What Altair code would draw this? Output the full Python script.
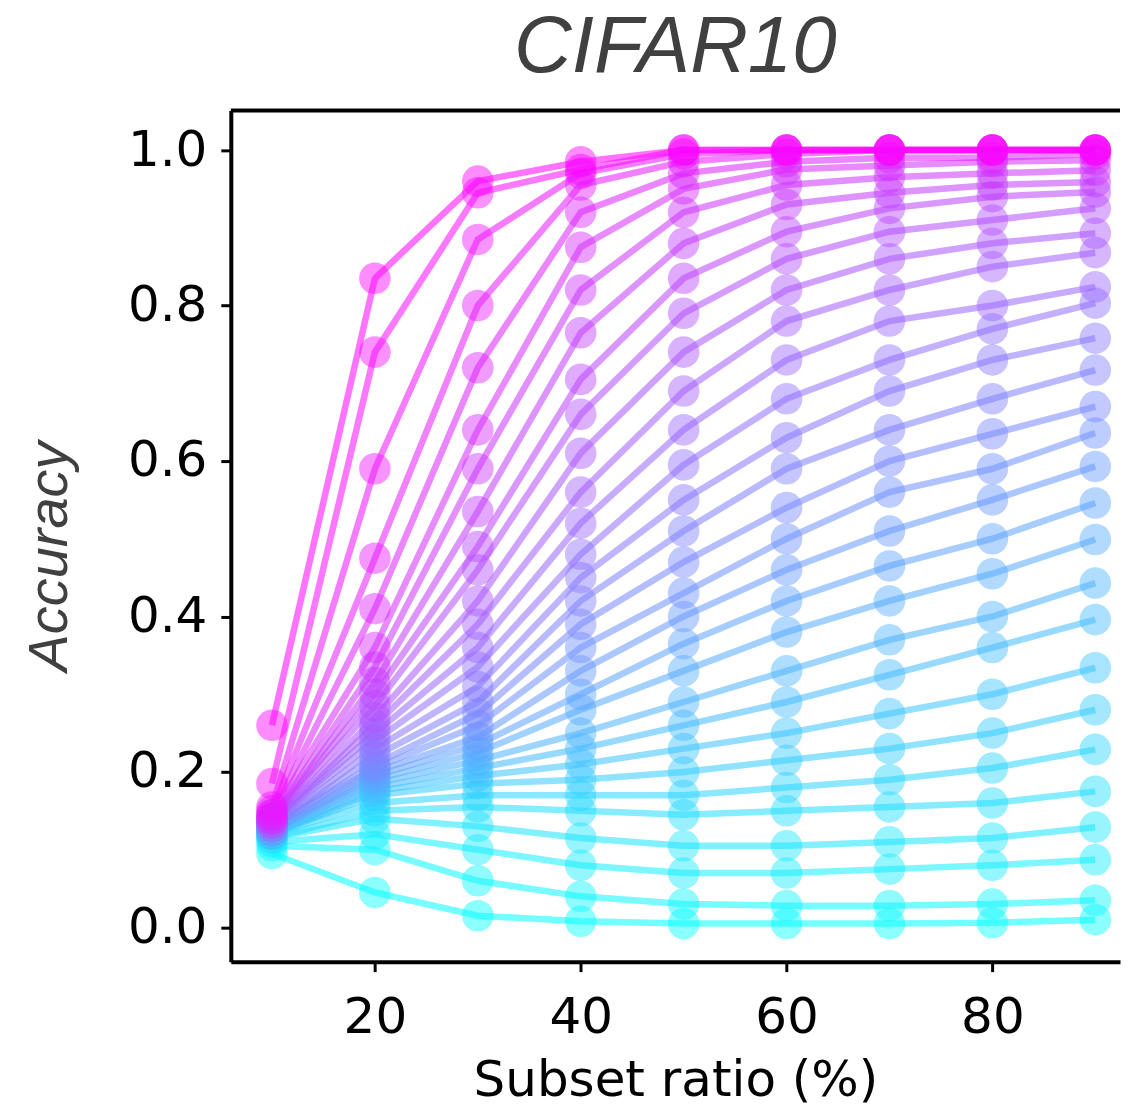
import altair as alt
import pandas as pd

# Subset ratios (%) on the x axis
subset_ratio = [10, 20, 30, 40, 50, 60, 70, 80, 90]

# Accuracy per curve (bottom/cyan -> top/magenta)
line_00 = [0.095, 0.045, 0.015, 0.008, 0.005, 0.005, 0.005, 0.006, 0.010]
line_01 = [0.105, 0.100, 0.060, 0.040, 0.030, 0.028, 0.028, 0.030, 0.035]
line_02 = [0.110, 0.120, 0.100, 0.080, 0.070, 0.070, 0.075, 0.080, 0.087]
line_03 = [0.115, 0.140, 0.130, 0.115, 0.105, 0.105, 0.110, 0.115, 0.129]
line_04 = [0.115, 0.150, 0.155, 0.150, 0.145, 0.150, 0.155, 0.160, 0.175]
line_05 = [0.120, 0.160, 0.170, 0.170, 0.170, 0.180, 0.190, 0.205, 0.229]
line_06 = [0.120, 0.170, 0.185, 0.190, 0.200, 0.215, 0.230, 0.250, 0.280]
line_07 = [0.120, 0.175, 0.195, 0.210, 0.230, 0.250, 0.275, 0.300, 0.334]
line_08 = [0.120, 0.180, 0.205, 0.230, 0.260, 0.290, 0.325, 0.360, 0.396]
line_09 = [0.125, 0.185, 0.215, 0.250, 0.290, 0.330, 0.370, 0.400, 0.443]
line_10 = [0.125, 0.190, 0.225, 0.280, 0.330, 0.380, 0.420, 0.455, 0.499]
line_11 = [0.125, 0.195, 0.235, 0.300, 0.365, 0.420, 0.465, 0.500, 0.546]
line_12 = [0.125, 0.200, 0.245, 0.330, 0.400, 0.460, 0.510, 0.550, 0.593]
line_13 = [0.130, 0.205, 0.260, 0.360, 0.430, 0.500, 0.560, 0.590, 0.636]
line_14 = [0.130, 0.210, 0.275, 0.390, 0.470, 0.540, 0.600, 0.635, 0.670]
line_15 = [0.130, 0.220, 0.290, 0.420, 0.510, 0.590, 0.640, 0.680, 0.717]
line_16 = [0.130, 0.230, 0.310, 0.450, 0.550, 0.630, 0.690, 0.730, 0.758]
line_17 = [0.135, 0.240, 0.335, 0.480, 0.595, 0.680, 0.730, 0.770, 0.803]
line_18 = [0.135, 0.250, 0.360, 0.520, 0.640, 0.730, 0.780, 0.800, 0.824]
line_19 = [0.135, 0.260, 0.390, 0.560, 0.690, 0.780, 0.820, 0.850, 0.868]
line_20 = [0.135, 0.270, 0.420, 0.610, 0.740, 0.820, 0.860, 0.880, 0.893]
line_21 = [0.140, 0.285, 0.460, 0.660, 0.790, 0.860, 0.895, 0.910, 0.925]
line_22 = [0.140, 0.300, 0.490, 0.705, 0.835, 0.895, 0.925, 0.940, 0.946]
line_23 = [0.140, 0.315, 0.535, 0.765, 0.880, 0.930, 0.945, 0.955, 0.959]
line_24 = [0.140, 0.335, 0.590, 0.820, 0.920, 0.955, 0.965, 0.970, 0.974]
line_25 = [0.145, 0.360, 0.640, 0.875, 0.950, 0.975, 0.980, 0.985, 0.987]
line_26 = [0.145, 0.410, 0.720, 0.920, 0.970, 0.985, 0.990, 0.990, 0.995]
line_27 = [0.150, 0.475, 0.800, 0.955, 0.985, 0.995, 1.000, 1.000, 1.000]
line_28 = [0.155, 0.590, 0.885, 0.970, 0.995, 1.000, 1.000, 1.000, 1.000]
line_29 = [0.185, 0.740, 0.945, 0.975, 1.000, 1.000, 1.000, 1.000, 1.000]
line_30 = [0.260, 0.835, 0.960, 0.985, 1.000, 1.000, 1.000, 1.000, 1.000]

lines = [line_00, line_01, line_02, line_03, line_04, line_05, line_06, line_07,
         line_08, line_09, line_10, line_11, line_12, line_13, line_14, line_15,
         line_16, line_17, line_18, line_19, line_20, line_21, line_22, line_23,
         line_24, line_25, line_26, line_27, line_28, line_29, line_30]

y_ticks = [0.0, 0.2, 0.4, 0.6, 0.8, 1.0]
x_ticks = [20, 40, 60, 80]

rows = []
for i, vals in enumerate(lines):
    for x, v in zip(subset_ratio, vals):
        rows.append({"line": i, "ratio": x, "acc": v})
df = pd.DataFrame(rows)

W, H = 890, 852

x_enc = alt.X(
    "ratio:Q",
    scale=alt.Scale(domain=[6, 92.4], nice=False, zero=False),
    axis=alt.Axis(
        values=x_ticks, title="Subset ratio (%)", grid=False,
        labelFont="DejaVu Sans", labelFontSize=50, labelColor="black",
        labelPadding=21, tickSize=10, tickWidth=3, tickColor="black",
        domainWidth=4, domainColor="black", labelFlush=False,
        titleFont="DejaVu Sans", titleFontSize=50, titleFontWeight="normal",
        titleColor="black", titlePadding=13,
    ),
)
y_enc = alt.Y(
    "acc:Q",
    scale=alt.Scale(domain=[-0.044, 1.051], nice=False, zero=False),
    axis=alt.Axis(
        values=y_ticks, format=".1f", title="Accuracy", grid=False,
        labelFont="DejaVu Sans", labelFontSize=50, labelColor="black",
        labelPadding=14, tickSize=10, tickWidth=3, tickColor="black",
        domainWidth=4, domainColor="black", labelFlush=False,
        titleFont="Liberation Sans", titleFontSize=56, titleFontStyle="italic",
        titleFontWeight="normal", titleColor="#404040", titlePadding=49,
        titleY=446,
    ),
)
color_enc = alt.Color(
    "line:Q",
    scale=alt.Scale(domain=[0, len(lines) - 1], range=["#00ffff", "#ff00ff"], interpolate="rgb"),
    legend=None,
)

base = alt.Chart(df)
line_layer = base.mark_line(strokeWidth=6.5, opacity=0.55).encode(
    x=x_enc, y=y_enc, color=color_enc, detail="line:N", order=alt.Order("ratio:Q")
)
point_layer = base.mark_circle(size=1000, opacity=0.45).encode(
    x=x_enc, y=y_enc, color=color_enc
)
top_border = alt.Chart(pd.DataFrame({"k": [0]})).mark_rule(
    color="black", strokeWidth=4
).encode(x=alt.value(0), x2=alt.value(W), y=alt.value(0))

chart = alt.layer(line_layer, point_layer, top_border).properties(
    width=W,
    height=H,
    padding={"left": 13, "top": 0, "right": 0, "bottom": 0},
    title=alt.TitleParams(
        "CIFAR10", font="Liberation Sans", fontSize=80, fontStyle="italic",
        fontWeight="normal", color="#404040", anchor="middle", offset=19,
    ),
).configure_view(stroke=None)

chart.save("out.html", embed_options={"renderer": "svg", "actions": False})
